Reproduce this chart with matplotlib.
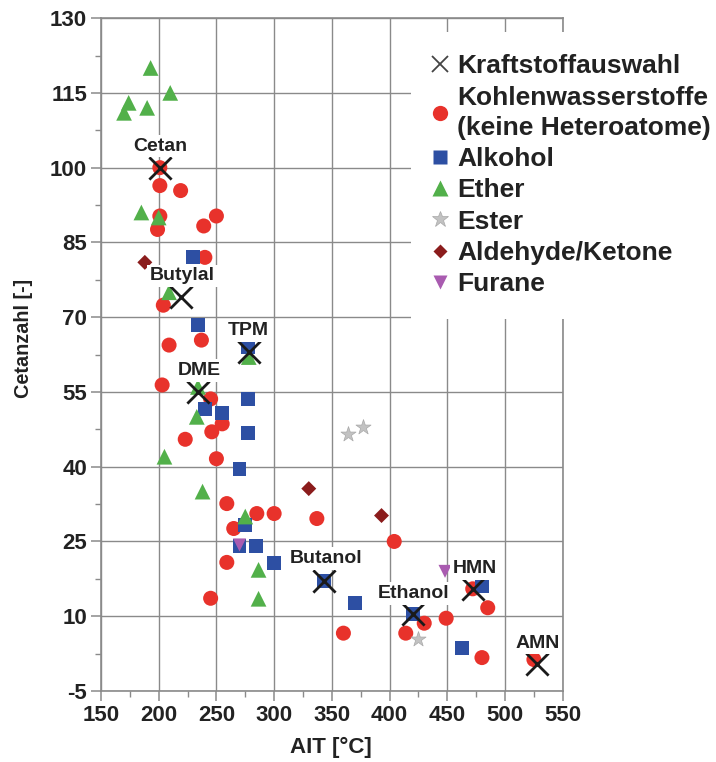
import matplotlib
matplotlib.use("Agg")
import matplotlib.pyplot as plt
from matplotlib.lines import Line2D
from matplotlib.ticker import FixedLocator

plt.rcParams['font.family'] = ['Liberation Sans', 'DejaVu Sans']
plt.rcParams['font.weight'] = 'bold'
plt.rcParams['axes.unicode_minus'] = False

# Kohlenwasserstoffe (no heteroatoms)
hc_ait = [201, 201, 219, 201, 199, 239, 250, 240, 204, 237, 209, 203, 245, 255,
          246, 223, 250, 259, 285, 300, 337, 265, 259, 245, 404, 472, 485, 430,
          449, 414, 360, 480, 525]
hc_cn = [100, 96.4, 95.4, 90.3, 87.6, 88.3, 90.3, 82, 72.4, 65.4, 64.4, 56.4, 53.6, 48.6,
         47, 45.5, 41.6, 32.6, 30.6, 30.6, 29.6, 27.6, 20.8, 13.6, 25, 15.5, 11.7, 8.6,
         9.6, 6.6, 6.6, 1.7, 1.3]

# Alkohole
alc_ait = [230, 234, 277, 277, 240, 255, 277, 270, 275, 270, 284.5, 300, 343, 370, 420, 480, 463]
alc_cn = [82, 68.4, 64, 53.6, 51.6, 50.7, 46.8, 39.6, 28.3, 24, 24, 20.6, 17, 12.6, 10.5, 16, 3.6]

# Ether
eth_ait = [193, 210, 174, 190, 170, 185, 200, 209, 278, 234, 233, 205, 238, 275, 286.5, 286.5]
eth_cn = [120, 115, 113, 112, 111, 91, 90, 75, 62, 56, 50, 42, 35, 30, 19.3, 13.5]

# Ester
est_ait = [364, 377, 425]
est_cn = [46.5, 48, 5.5]

# Aldehyde / Ketone
ald_ait = [188, 330, 393]
ald_cn = [81, 35.6, 30.2]

# Furane
fur_ait = [270, 448]
fur_cn = [24.3, 19]

# Selected fuels
sel_names = ['Cetan', 'Butylal', 'TPM', 'DME', 'Butanol', 'Ethanol', 'HMN', 'AMN']
sel_ait = [201, 219, 278, 234, 343, 420, 472, 528]
sel_cn = [100, 74, 63, 55, 17, 10.5, 15.5, 0.5]
label_ait = [201, 220.5, 278, 235, 345, 421, 474, 528]
label_cn = [104.3, 78.3, 67.3, 59.3, 21.6, 14.6, 19.5, 4.6]

x_ticks = [150, 200, 250, 300, 350, 400, 450, 500, 550]
y_ticks = [-5, 10, 25, 40, 55, 70, 85, 100, 115, 130]

c_red = '#e8322b'
c_blue = '#2d4fa3'
c_green = '#52b04a'
c_gray = '#c2c2c2'
c_dred = '#8b1c1c'
c_purple = '#a95bb0'
c_axis = '#8a8a8a'
c_text = '#222222'

fig = plt.figure(figsize=(7.16, 7.62), dpi=100)
ax = fig.add_axes([0.141, 0.0932, 0.645, 0.883])

ax.scatter(hc_ait, hc_cn, s=117, marker='o', color=c_red, edgecolors='none', zorder=3)
ax.scatter(alc_ait, alc_cn, s=100, marker='s', color=c_blue, edgecolors='none', zorder=4)
ax.scatter(eth_ait, eth_cn, s=128, marker='^', color=c_green, edgecolors='none', zorder=5)
ax.scatter(est_ait, est_cn, s=130, marker='*', color=c_gray, edgecolors='#a8a8a8',
           linewidths=0.5, zorder=5)
ax.scatter(ald_ait, ald_cn, s=58, marker='D', color=c_dred, edgecolors='none', zorder=5)
ax.scatter(fur_ait, fur_cn, s=88, marker='v', color=c_purple, edgecolors='none', zorder=6)
ax.scatter(sel_ait, sel_cn, s=256, marker='x', color='#1a1a1a', linewidths=2, zorder=7)

for name, lx, ly in zip(sel_names, label_ait, label_cn):
    ax.text(lx, ly, name, ha='center', va='center', fontsize=14, fontweight='bold',
            color=c_text, zorder=8,
            bbox=dict(facecolor='white', edgecolor='none', pad=2))

ax.set_xlim(150, 550)
ax.set_ylim(-5, 130)
ax.xaxis.set_major_locator(FixedLocator(x_ticks))
ax.xaxis.set_minor_locator(FixedLocator([v + 25 for v in x_ticks[:-1]]))
ax.yaxis.set_major_locator(FixedLocator(y_ticks))
ax.yaxis.set_minor_locator(FixedLocator([v + 7.5 for v in y_ticks[:-1]]))
ax.grid(True, which='major', color=c_axis, linewidth=1.0, zorder=0)
ax.set_axisbelow(True)
for sp in ax.spines.values():
    sp.set_color(c_axis)
    sp.set_linewidth(1.2)
ax.tick_params(which='major', direction='out', length=7, width=1.1, color=c_axis,
               labelsize=16, labelcolor=c_text, pad=3)
ax.tick_params(which='minor', direction='out', length=4, width=1.0, color=c_axis)
for lab in ax.get_xticklabels() + ax.get_yticklabels():
    lab.set_fontweight('bold')

ax.set_xlabel('AIT [°C]', fontsize=16, fontweight='bold', color=c_text)
ax.xaxis.set_label_coords(0.497, -0.068)
ax.set_ylabel('Cetanzahl [-]', fontsize=14.3, fontweight='bold', color=c_text)
ax.yaxis.set_label_coords(-0.147, 0.524)

handles = [
    Line2D([], [], ls='none', marker='x', color='#444444', markersize=12, mew=1.3),
    Line2D([], [], ls='none', marker='o', color=c_red, markersize=11, mec='none'),
    Line2D([], [], ls='none', marker='s', color=c_blue, markersize=10, mec='none'),
    Line2D([], [], ls='none', marker='^', color=c_green, markersize=11, mec='none'),
    Line2D([], [], ls='none', marker='*', color=c_gray, markersize=12, mec='#a8a8a8', mew=0.5),
    Line2D([], [], ls='none', marker='D', color=c_dred, markersize=7.5, mec='none'),
    Line2D([], [], ls='none', marker='v', color=c_purple, markersize=10, mec='none'),
]
labels = ['Kraftstoffauswahl', 'Kohlenwasserstoffe\n(keine Heteroatome)', 'Alkohol',
          'Ether', 'Ester', 'Aldehyde/Ketone', 'Furane']
leg = ax.legend(handles, labels, loc='upper left',
                bbox_to_anchor=(411 / 716, 1 - 32 / 762), bbox_transform=fig.transFigure,
                prop=dict(family=['Liberation Sans', 'DejaVu Sans'], weight='bold', size=19),
                frameon=True, facecolor='white', edgecolor='none', framealpha=1,
                fancybox=False, borderpad=0.85, handlelength=0.5, handletextpad=0.4,
                labelspacing=0.28, borderaxespad=0)
for t in leg.get_texts():
    t.set_color(c_text)
    t.set_linespacing(1.3)
leg.set_zorder(20)

fig.savefig('out.png', dpi=100)
